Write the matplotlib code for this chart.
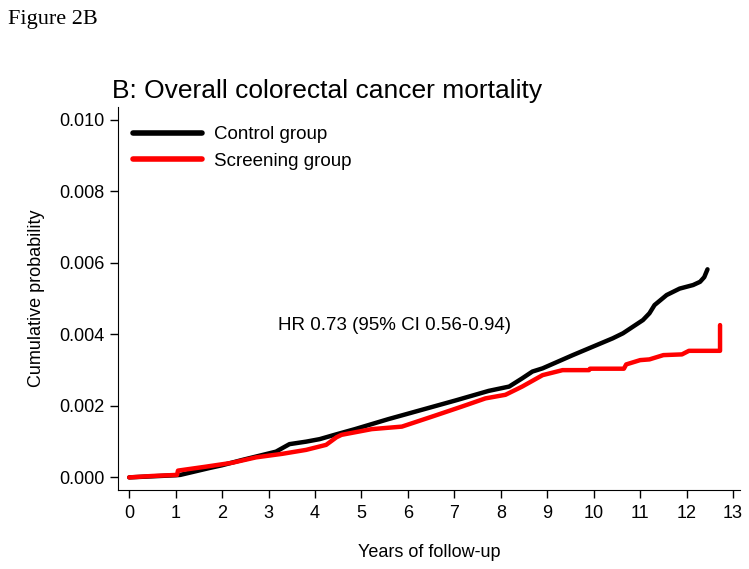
import matplotlib
matplotlib.use("Agg")
import matplotlib.pyplot as plt

# Control group: cumulative probability
control_t = [0, 0.5, 1.0, 1.1, 1.72, 2.0, 2.44, 3.16, 3.45, 3.81, 4.1, 4.42, 4.86, 5.58,
             6.3, 7.02, 7.74, 8.18, 8.46, 8.68, 8.9, 9.55, 10.41, 10.63, 11.06, 11.2,
             11.31, 11.57, 11.85, 12.14, 12.29, 12.38, 12.45]
control_p = [0, 0.00003, 0.00006, 0.00007, 0.00026, 0.00034, 0.00049, 0.00072, 0.00093,
             0.00100, 0.00107, 0.00119, 0.00135, 0.00163, 0.00189, 0.00215, 0.00242,
             0.00254, 0.00277, 0.00296, 0.00305, 0.00342, 0.00389, 0.00403, 0.00440,
             0.00459, 0.00482, 0.00510, 0.00528, 0.00538, 0.00547, 0.00560, 0.00582]

# Screening group
screen_t = [0, 0.5, 1.03, 1.05, 1.65, 2.22, 2.73, 3.3, 3.81, 4.24, 4.46, 4.57, 5.22, 5.87,
            6.52, 7.16, 7.67, 8.1, 8.46, 8.9, 9.33, 9.9, 9.92, 10.65, 10.7, 11.0, 11.2,
            11.5, 11.9, 12.05, 12.72, 12.72]
screen_p = [0, 0.00004, 0.00007, 0.00019, 0.00030, 0.00041, 0.00056, 0.00066, 0.00077,
            0.00091, 0.00112, 0.00119, 0.00135, 0.00142, 0.00170, 0.00198, 0.00221,
            0.00231, 0.00254, 0.00286, 0.00300, 0.00300, 0.00304, 0.00304, 0.00316,
            0.00328, 0.00330, 0.00342, 0.00344, 0.00354, 0.00354, 0.00426]

x_ticks = list(range(0, 14))
y_ticks = [0.000, 0.002, 0.004, 0.006, 0.008, 0.010]

plt.rcParams['font.family'] = ['Liberation Sans', 'DejaVu Sans']

fig = plt.figure(figsize=(7.49, 5.69), dpi=100)
ax = fig.add_axes([0.157, 0.139, 0.831, 0.673])

ax.plot(control_t, control_p, color='black', lw=3.2, label='Control group',
        solid_capstyle='round', solid_joinstyle='round')
ax.plot(screen_t, screen_p, color='#ff0000', lw=3.2, label='Screening group',
        solid_capstyle='round', solid_joinstyle='round')

ax.set_xlim(-0.25, 13.15)
ax.set_ylim(-0.00035, 0.01036)
ax.set_xticks(x_ticks)
ax.set_yticks(y_ticks)
ax.set_yticklabels([f"{v:.3f}" for v in y_ticks])
ax.tick_params(axis='both', labelsize=13, length=6, width=1, direction='out')
ax.tick_params(axis='x', pad=5)
ax.spines['top'].set_visible(False)
ax.spines['right'].set_visible(False)

ax.set_xlabel('Years of follow-up', fontsize=13, labelpad=16)
ax.set_ylabel('Cumulative probability', fontsize=13, labelpad=10)

ax.text(5.72, 0.00425, 'HR 0.73 (95% CI 0.56-0.94)', fontsize=13.5,
        ha='center', va='center')

leg = ax.legend(loc='upper left', frameon=False, fontsize=13.5,
                handlelength=3.7, handletextpad=0.65, labelspacing=0.5,
                bbox_to_anchor=(0.012, 0.97), borderaxespad=0.0)
for h in leg.get_lines():
    h.set_linewidth(4)

fig.text(0.15, 0.828, 'B: Overall colorectal cancer mortality', fontsize=19,
         ha='left', va='baseline')
fig.text(0.011, 0.958, 'Figure 2B', fontsize=16, ha='left', va='baseline',
         family=['Liberation Serif', 'DejaVu Serif'])

fig.savefig('out.png', dpi=100)
